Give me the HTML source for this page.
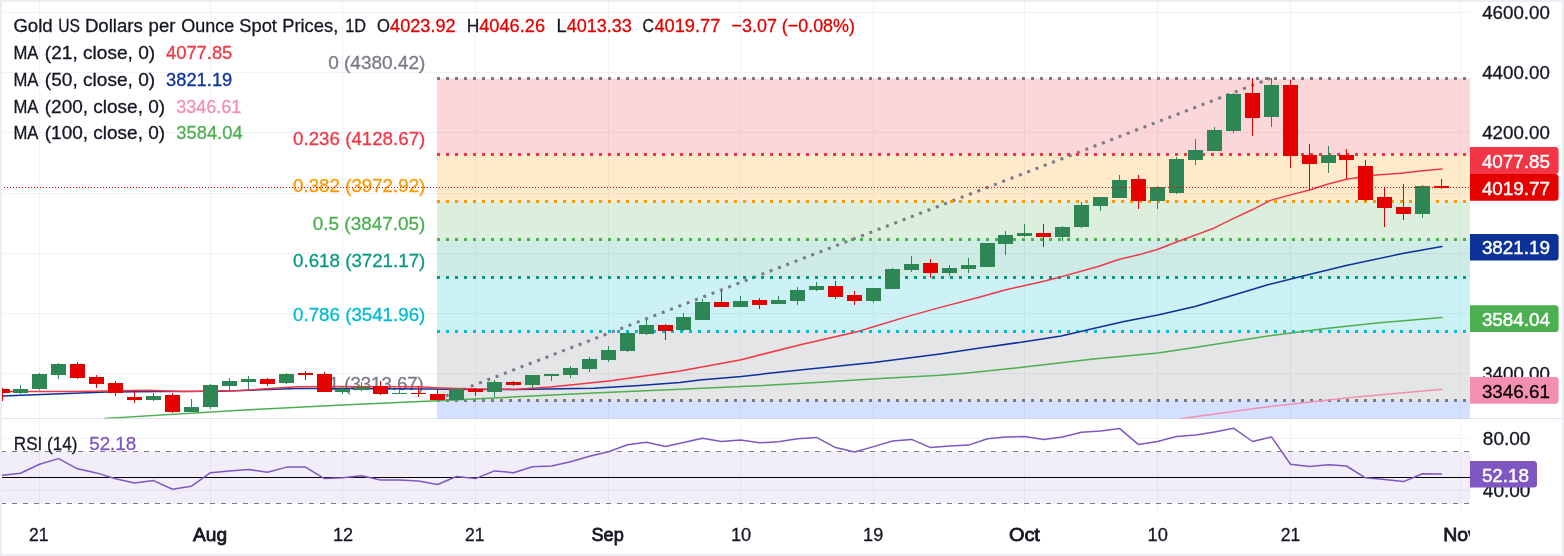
<!DOCTYPE html>
<html lang="en"><head><meta charset="utf-8"><title>Gold US Dollars per Ounce Spot Prices, 1D</title>
<style>html,body{margin:0;padding:0;background:#fff}body{width:1564px;height:556px;overflow:hidden}svg{display:block}</style>
</head><body>
<svg width="1564" height="556" viewBox="0 0 1564 556" font-family="'Liberation Sans', Arial, sans-serif" font-size="19.0px">
<defs>
<clipPath id="cm"><rect x="2" y="2" width="1468" height="416.5"/></clipPath>
<clipPath id="cr"><rect x="2" y="419" width="1468" height="93"/></clipPath>
<clipPath id="ct"><rect x="2" y="512" width="1468" height="42"/></clipPath>
</defs>
<rect x="0" y="0" width="1564" height="556" fill="#eceef3"/>
<rect x="2" y="2" width="1560" height="552" fill="#ffffff"/>
<g stroke="#f1f2f4" stroke-width="1" shape-rendering="crispEdges">
<line x1="39.5" y1="2" x2="39.5" y2="512"/>
<line x1="210.5" y1="2" x2="210.5" y2="512"/>
<line x1="342.5" y1="2" x2="342.5" y2="512"/>
<line x1="475.5" y1="2" x2="475.5" y2="512"/>
<line x1="608.5" y1="2" x2="608.5" y2="512"/>
<line x1="740.5" y1="2" x2="740.5" y2="512"/>
<line x1="873.5" y1="2" x2="873.5" y2="512"/>
<line x1="1024.5" y1="2" x2="1024.5" y2="512"/>
<line x1="1157.5" y1="2" x2="1157.5" y2="512"/>
<line x1="1290.5" y1="2" x2="1290.5" y2="512"/>
<line x1="1460.5" y1="2" x2="1460.5" y2="512"/>
<line x1="2" y1="12.5" x2="1470" y2="12.5"/>
<line x1="2" y1="72.5" x2="1470" y2="72.5"/>
<line x1="2" y1="132.5" x2="1470" y2="132.5"/>
<line x1="2" y1="193.5" x2="1470" y2="193.5"/>
<line x1="2" y1="253.5" x2="1470" y2="253.5"/>
<line x1="2" y1="313.5" x2="1470" y2="313.5"/>
<line x1="2" y1="373.5" x2="1470" y2="373.5"/>
<line x1="2" y1="438.5" x2="1470" y2="438.5"/>
<line x1="2" y1="490.5" x2="1470" y2="490.5"/>
</g>
<rect x="2" y="418" width="1560" height="1" fill="#e0e3eb"/>
<g clip-path="url(#cm)">
<rect x="437" y="78.5" width="1033" height="76.0" fill="#f23645" fill-opacity="0.2"/>
<rect x="437" y="154.5" width="1033" height="47.0" fill="#ff9800" fill-opacity="0.2"/>
<rect x="437" y="201.5" width="1033" height="38.0" fill="#4caf50" fill-opacity="0.2"/>
<rect x="437" y="239.5" width="1033" height="38.0" fill="#089981" fill-opacity="0.2"/>
<rect x="437" y="277.5" width="1033" height="54.0" fill="#00bcd4" fill-opacity="0.2"/>
<rect x="437" y="331.5" width="1033" height="69.0" fill="#787b86" fill-opacity="0.2"/>
<rect x="437" y="400.5" width="1033" height="29.5" fill="#2962ff" fill-opacity="0.2"/>
<line x1="437.5" y1="399.2" x2="1270.5" y2="78.4" stroke="#787b86" stroke-width="3" stroke-dasharray="3 5.9"/>
<line x1="437" y1="78.5" x2="1470" y2="78.5" stroke="#787b86" stroke-width="3" stroke-dasharray="3 6" shape-rendering="crispEdges"/>
<line x1="437" y1="154.5" x2="1470" y2="154.5" stroke="#f23645" stroke-width="3" stroke-dasharray="3 6" shape-rendering="crispEdges"/>
<line x1="437" y1="201.5" x2="1470" y2="201.5" stroke="#ff9800" stroke-width="3" stroke-dasharray="3 6" shape-rendering="crispEdges"/>
<line x1="437" y1="239.5" x2="1470" y2="239.5" stroke="#4caf50" stroke-width="3" stroke-dasharray="3 6" shape-rendering="crispEdges"/>
<line x1="437" y1="277.5" x2="1470" y2="277.5" stroke="#089981" stroke-width="3" stroke-dasharray="3 6" shape-rendering="crispEdges"/>
<line x1="437" y1="331.5" x2="1470" y2="331.5" stroke="#00bcd4" stroke-width="3" stroke-dasharray="3 6" shape-rendering="crispEdges"/>
<line x1="437" y1="400.5" x2="1470" y2="400.5" stroke="#787b86" stroke-width="3" stroke-dasharray="3 6" shape-rendering="crispEdges"/>
<text x="328.2" y="68.7" fill="#787b86" stroke="#787b86" stroke-width="0.3" textLength="97.1" lengthAdjust="spacingAndGlyphs">0 (4380.42)</text>
<text x="293.09999999999997" y="145" fill="#f23645" stroke="#f23645" stroke-width="0.3" textLength="132.2" lengthAdjust="spacingAndGlyphs">0.236 (4128.67)</text>
<text x="293.09999999999997" y="191.5" fill="#ff9800" stroke="#ff9800" stroke-width="0.3" textLength="132.2" lengthAdjust="spacingAndGlyphs">0.382 (3972.92)</text>
<text x="312.8" y="229.7" fill="#4caf50" stroke="#4caf50" stroke-width="0.3" textLength="112.5" lengthAdjust="spacingAndGlyphs">0.5 (3847.05)</text>
<text x="293.09999999999997" y="266.8" fill="#089981" stroke="#089981" stroke-width="0.3" textLength="132.2" lengthAdjust="spacingAndGlyphs">0.618 (3721.17)</text>
<text x="293.09999999999997" y="320.9" fill="#00bcd4" stroke="#00bcd4" stroke-width="0.3" textLength="132.2" lengthAdjust="spacingAndGlyphs">0.786 (3541.96)</text>
<text x="328.7" y="389.6" fill="#787b86" stroke="#787b86" stroke-width="0.3" textLength="95.1" lengthAdjust="spacingAndGlyphs">1 (3313.67)</text>
</g>
<g clip-path="url(#cm)">
<polyline points="1180.0,418.8 1269.5,406.6 1351.3,397.6 1442.0,389.2" fill="none" stroke="#f48fb1" stroke-width="1.5" stroke-linejoin="round" stroke-linecap="round"/>
<polyline points="105.0,418.4 240.0,410.2 342.8,404.9 437.0,400.7 516.7,396.8 593.4,393.0 680.0,389.3 741.4,386.6 807.9,383.1 871.8,379.0 940.0,375.3 967.6,372.9 1024.4,367.1 1093.4,359.1 1157.9,352.9 1197.9,347.0 1269.5,335.8 1325.8,328.6 1376.9,323.0 1442.0,317.6" fill="none" stroke="#4caf50" stroke-width="1.5" stroke-linejoin="round" stroke-linecap="round"/>
<polyline points="-2.0,396.2 61.4,393.7 107.0,392.0 160.0,391.6 220.0,391.3 297.0,388.6 358.0,388.6 460.0,389.3 516.7,389.5 593.4,388.2 639.5,385.6 680.0,382.6 699.7,380.0 741.4,376.4 799.8,369.9 873.5,362.6 940.0,354.0 978.4,348.3 1024.4,341.7 1061.2,336.1 1093.4,328.4 1124.1,321.5 1157.9,314.9 1195.0,306.5 1228.8,296.5 1268.7,284.5 1300.0,276.8 1346.2,265.6 1402.5,253.6 1442.0,246.4" fill="none" stroke="#0c3299" stroke-width="1.5" stroke-linejoin="round" stroke-linecap="round"/>
<polyline points="-2.0,391.4 77.0,391.4 147.0,390.2 184.0,391.4 240.0,390.4 297.0,386.8 327.0,386.5 419.5,386.8 440.0,387.9 475.0,389.1 514.0,389.4 550.5,387.1 609.0,381.0 680.0,371.0 740.0,359.9 801.4,344.5 858.2,331.4 873.5,326.8 908.8,316.1 939.5,307.6 980.0,297.0 1006.0,289.8 1042.9,281.4 1058.2,277.6 1098.1,266.5 1119.6,259.2 1139.5,254.6 1157.9,249.2 1177.9,241.5 1200.0,233.4 1213.8,228.2 1233.7,218.4 1252.1,209.8 1270.5,200.4 1290.5,194.9 1309.7,190.0 1327.3,184.2 1346.5,179.3 1373.3,175.3 1401.0,173.2 1420.0,171.1 1442.0,168.9" fill="none" stroke="#f23645" stroke-width="1.5" stroke-linejoin="round" stroke-linecap="round"/>
<rect x="2.0" y="388" width="1" height="13" fill="#e50000"/>
<rect x="-5.0" y="389" width="15" height="4" fill="#e50000"/>
<rect x="20.0" y="385" width="1" height="9" fill="#2d8653"/>
<rect x="13.0" y="389" width="15" height="4" fill="#2d8653"/>
<rect x="39.0" y="373" width="1" height="17" fill="#2d8653"/>
<rect x="32.0" y="374" width="15" height="15" fill="#2d8653"/>
<rect x="58.0" y="363" width="1" height="16" fill="#2d8653"/>
<rect x="51.0" y="364" width="15" height="11" fill="#2d8653"/>
<rect x="77.0" y="362" width="1" height="17" fill="#e50000"/>
<rect x="70.0" y="364" width="15" height="14" fill="#e50000"/>
<rect x="96.0" y="375" width="1" height="13" fill="#e50000"/>
<rect x="89.0" y="377" width="15" height="7" fill="#e50000"/>
<rect x="115.0" y="381" width="1" height="15" fill="#e50000"/>
<rect x="108.0" y="383" width="15" height="10" fill="#e50000"/>
<rect x="134.0" y="390" width="1" height="13" fill="#e50000"/>
<rect x="127.0" y="397" width="15" height="3" fill="#e50000"/>
<rect x="153.0" y="393" width="1" height="8" fill="#2d8653"/>
<rect x="146.0" y="396" width="15" height="4" fill="#2d8653"/>
<rect x="172.0" y="393" width="1" height="20" fill="#e50000"/>
<rect x="165.0" y="395" width="15" height="17" fill="#e50000"/>
<rect x="191.0" y="399" width="1" height="13" fill="#2d8653"/>
<rect x="184.0" y="407" width="15" height="5" fill="#2d8653"/>
<rect x="210.0" y="384" width="1" height="25" fill="#2d8653"/>
<rect x="203.0" y="385" width="15" height="22" fill="#2d8653"/>
<rect x="229.0" y="378" width="1" height="12" fill="#2d8653"/>
<rect x="222.0" y="381" width="15" height="5" fill="#2d8653"/>
<rect x="248.0" y="376" width="1" height="13" fill="#2d8653"/>
<rect x="241.0" y="379" width="15" height="3" fill="#2d8653"/>
<rect x="267.0" y="378" width="1" height="8" fill="#e50000"/>
<rect x="260.0" y="379" width="15" height="5" fill="#e50000"/>
<rect x="286.0" y="373" width="1" height="11" fill="#2d8653"/>
<rect x="279.0" y="374" width="15" height="9" fill="#2d8653"/>
<rect x="305.0" y="371" width="1" height="9" fill="#e50000"/>
<rect x="298.0" y="373" width="15" height="2" fill="#e50000"/>
<rect x="324.0" y="372" width="1" height="20" fill="#e50000"/>
<rect x="317.0" y="374" width="15" height="18" fill="#e50000"/>
<rect x="342.0" y="386" width="1" height="8" fill="#2d8653"/>
<rect x="335.0" y="389" width="15" height="3" fill="#2d8653"/>
<rect x="361.0" y="382" width="1" height="9" fill="#2d8653"/>
<rect x="354.0" y="387" width="15" height="3" fill="#2d8653"/>
<rect x="380.0" y="381" width="1" height="14" fill="#e50000"/>
<rect x="373.0" y="386" width="15" height="8" fill="#e50000"/>
<rect x="399.0" y="389" width="1" height="5" fill="#2d8653"/>
<rect x="392.0" y="393" width="15" height="1" fill="#2d8653"/>
<rect x="418.0" y="386" width="1" height="11" fill="#e50000"/>
<rect x="411.0" y="393" width="15" height="1" fill="#e50000"/>
<rect x="437.0" y="390" width="1" height="10" fill="#e50000"/>
<rect x="430.0" y="394" width="15" height="6" fill="#e50000"/>
<rect x="456.0" y="388" width="1" height="12" fill="#2d8653"/>
<rect x="449.0" y="389" width="15" height="11" fill="#2d8653"/>
<rect x="475.0" y="388" width="1" height="8" fill="#e50000"/>
<rect x="468.0" y="389" width="15" height="3" fill="#e50000"/>
<rect x="494.0" y="380" width="1" height="17" fill="#2d8653"/>
<rect x="487.0" y="382" width="15" height="10" fill="#2d8653"/>
<rect x="513.0" y="381" width="1" height="5" fill="#e50000"/>
<rect x="506.0" y="382" width="15" height="3" fill="#e50000"/>
<rect x="532.0" y="375" width="1" height="13" fill="#2d8653"/>
<rect x="525.0" y="375" width="15" height="10" fill="#2d8653"/>
<rect x="551.0" y="374" width="1" height="7" fill="#2d8653"/>
<rect x="544.0" y="374" width="15" height="2" fill="#2d8653"/>
<rect x="570.0" y="366" width="1" height="12" fill="#2d8653"/>
<rect x="563.0" y="368" width="15" height="7" fill="#2d8653"/>
<rect x="589.0" y="357" width="1" height="15" fill="#2d8653"/>
<rect x="582.0" y="359" width="15" height="10" fill="#2d8653"/>
<rect x="608.0" y="346" width="1" height="16" fill="#2d8653"/>
<rect x="601.0" y="350" width="15" height="10" fill="#2d8653"/>
<rect x="627.0" y="331" width="1" height="21" fill="#2d8653"/>
<rect x="620.0" y="333" width="15" height="18" fill="#2d8653"/>
<rect x="646.0" y="320" width="1" height="15" fill="#2d8653"/>
<rect x="639.0" y="325" width="15" height="9" fill="#2d8653"/>
<rect x="665.0" y="324" width="1" height="16" fill="#e50000"/>
<rect x="658.0" y="325" width="15" height="6" fill="#e50000"/>
<rect x="683.0" y="313" width="1" height="18" fill="#2d8653"/>
<rect x="676.0" y="317" width="15" height="13" fill="#2d8653"/>
<rect x="702.0" y="299" width="1" height="21" fill="#2d8653"/>
<rect x="695.0" y="302" width="15" height="18" fill="#2d8653"/>
<rect x="721.0" y="291" width="1" height="16" fill="#e50000"/>
<rect x="714.0" y="302" width="15" height="5" fill="#e50000"/>
<rect x="740.0" y="296" width="1" height="11" fill="#2d8653"/>
<rect x="733.0" y="301" width="15" height="6" fill="#2d8653"/>
<rect x="759.0" y="298" width="1" height="11" fill="#e50000"/>
<rect x="752.0" y="300" width="15" height="5" fill="#e50000"/>
<rect x="778.0" y="296" width="1" height="8" fill="#2d8653"/>
<rect x="771.0" y="300" width="15" height="4" fill="#2d8653"/>
<rect x="797.0" y="287" width="1" height="18" fill="#2d8653"/>
<rect x="790.0" y="290" width="15" height="11" fill="#2d8653"/>
<rect x="816.0" y="282" width="1" height="9" fill="#2d8653"/>
<rect x="809.0" y="286" width="15" height="4" fill="#2d8653"/>
<rect x="835.0" y="281" width="1" height="18" fill="#e50000"/>
<rect x="828.0" y="286" width="15" height="11" fill="#e50000"/>
<rect x="854.0" y="291" width="1" height="14" fill="#e50000"/>
<rect x="847.0" y="295" width="15" height="6" fill="#e50000"/>
<rect x="873.0" y="288" width="1" height="15" fill="#2d8653"/>
<rect x="866.0" y="288" width="15" height="13" fill="#2d8653"/>
<rect x="892.0" y="268" width="1" height="21" fill="#2d8653"/>
<rect x="885.0" y="269" width="15" height="20" fill="#2d8653"/>
<rect x="911.0" y="256" width="1" height="16" fill="#2d8653"/>
<rect x="904.0" y="264" width="15" height="6" fill="#2d8653"/>
<rect x="930.0" y="259" width="1" height="19" fill="#e50000"/>
<rect x="923.0" y="263" width="15" height="10" fill="#e50000"/>
<rect x="949.0" y="265" width="1" height="11" fill="#2d8653"/>
<rect x="942.0" y="268" width="15" height="5" fill="#2d8653"/>
<rect x="968.0" y="258" width="1" height="15" fill="#2d8653"/>
<rect x="961.0" y="265" width="15" height="4" fill="#2d8653"/>
<rect x="987.0" y="243" width="1" height="24" fill="#2d8653"/>
<rect x="980.0" y="243" width="15" height="24" fill="#2d8653"/>
<rect x="1005.0" y="231" width="1" height="24" fill="#2d8653"/>
<rect x="998.0" y="235" width="15" height="9" fill="#2d8653"/>
<rect x="1024.0" y="224" width="1" height="13" fill="#2d8653"/>
<rect x="1017.0" y="233" width="15" height="3" fill="#2d8653"/>
<rect x="1043.0" y="224" width="1" height="23" fill="#e50000"/>
<rect x="1036.0" y="233" width="15" height="4" fill="#e50000"/>
<rect x="1062.0" y="226" width="1" height="15" fill="#2d8653"/>
<rect x="1055.0" y="227" width="15" height="10" fill="#2d8653"/>
<rect x="1081.0" y="202" width="1" height="26" fill="#2d8653"/>
<rect x="1074.0" y="205" width="15" height="22" fill="#2d8653"/>
<rect x="1100.0" y="197" width="1" height="14" fill="#2d8653"/>
<rect x="1093.0" y="197" width="15" height="9" fill="#2d8653"/>
<rect x="1119.0" y="175" width="1" height="23" fill="#2d8653"/>
<rect x="1112.0" y="180" width="15" height="18" fill="#2d8653"/>
<rect x="1138.0" y="175" width="1" height="34" fill="#e50000"/>
<rect x="1131.0" y="179" width="15" height="22" fill="#e50000"/>
<rect x="1157.0" y="186" width="1" height="23" fill="#2d8653"/>
<rect x="1150.0" y="187" width="15" height="14" fill="#2d8653"/>
<rect x="1176.0" y="157" width="1" height="37" fill="#2d8653"/>
<rect x="1169.0" y="159" width="15" height="34" fill="#2d8653"/>
<rect x="1195.0" y="139" width="1" height="26" fill="#2d8653"/>
<rect x="1188.0" y="150" width="15" height="10" fill="#2d8653"/>
<rect x="1214.0" y="127" width="1" height="24" fill="#2d8653"/>
<rect x="1207.0" y="130" width="15" height="21" fill="#2d8653"/>
<rect x="1233.0" y="93" width="1" height="40" fill="#2d8653"/>
<rect x="1226.0" y="94" width="15" height="37" fill="#2d8653"/>
<rect x="1252.0" y="78" width="1" height="58" fill="#e50000"/>
<rect x="1245.0" y="93" width="15" height="25" fill="#e50000"/>
<rect x="1271.0" y="78" width="1" height="49" fill="#2d8653"/>
<rect x="1264.0" y="85" width="15" height="32" fill="#2d8653"/>
<rect x="1290.0" y="80" width="1" height="88" fill="#e50000"/>
<rect x="1283.0" y="85" width="15" height="71" fill="#e50000"/>
<rect x="1309.0" y="144" width="1" height="46" fill="#e50000"/>
<rect x="1302.0" y="155" width="15" height="9" fill="#e50000"/>
<rect x="1328.0" y="146" width="1" height="27" fill="#2d8653"/>
<rect x="1321.0" y="155" width="15" height="8" fill="#2d8653"/>
<rect x="1346.0" y="149" width="1" height="30" fill="#e50000"/>
<rect x="1339.0" y="155" width="15" height="5" fill="#e50000"/>
<rect x="1365.0" y="160" width="1" height="41" fill="#e50000"/>
<rect x="1358.0" y="166" width="15" height="34" fill="#e50000"/>
<rect x="1384.0" y="187" width="1" height="40" fill="#e50000"/>
<rect x="1377.0" y="197" width="15" height="11" fill="#e50000"/>
<rect x="1403.0" y="184" width="1" height="36" fill="#e50000"/>
<rect x="1396.0" y="207" width="15" height="7" fill="#e50000"/>
<rect x="1422.0" y="185" width="1" height="33" fill="#2d8653"/>
<rect x="1415.0" y="186" width="15" height="28" fill="#2d8653"/>
<rect x="1441.0" y="179" width="1" height="10" fill="#e50000"/>
<rect x="1434.0" y="186" width="15" height="2" fill="#e50000"/>
<line x1="1" y1="187.5" x2="1470" y2="187.5" stroke="#e50000" stroke-width="1" stroke-dasharray="1 2" shape-rendering="crispEdges"/>
</g>
<g clip-path="url(#cr)">
<rect x="2" y="451.5" width="1468" height="52" fill="#7e57c2" fill-opacity="0.1"/>
<line x1="2" y1="451.5" x2="1470" y2="451.5" stroke="#787b86" stroke-width="1" stroke-dasharray="5 6" stroke-dashoffset="1" shape-rendering="crispEdges"/>
<line x1="2" y1="503.5" x2="1470" y2="503.5" stroke="#787b86" stroke-width="1" stroke-dasharray="5 6" stroke-dashoffset="1" shape-rendering="crispEdges"/>
<rect x="2" y="477" width="1468" height="1" fill="#000"/>
<polyline points="-17.4,476.8 2.5,475.2 20.5,473.2 39.5,464.2 58.5,458.6 77.5,468.8 96.5,472.9 115.5,478.8 134.5,482.9 153.5,480.6 172.5,489.3 191.5,486.2 210.5,472.7 229.5,470.9 248.5,469.6 267.5,472.2 286.5,467.1 305.5,467.1 324.5,478.6 342.5,477.8 361.5,475.8 380.5,480.1 399.5,480.1 418.5,480.9 437.5,484.5 456.5,476.5 475.5,478.6 494.5,470.9 513.5,472.7 532.5,466.8 551.5,466.0 570.5,461.7 589.5,456.3 608.5,451.7 627.5,444.8 646.5,442.3 665.5,446.6 683.5,442.4 702.5,438.2 721.5,441.5 740.5,439.9 759.5,442.8 778.5,441.7 797.5,438.7 816.5,437.4 835.5,447.6 854.5,452.0 873.5,446.6 892.5,441.0 911.5,439.4 930.5,447.6 949.5,446.1 968.5,445.1 987.5,438.7 1005.5,437.1 1024.5,436.6 1043.5,439.4 1062.5,437.1 1081.5,432.3 1100.5,431.0 1119.5,428.4 1138.5,444.6 1157.5,441.5 1176.5,436.6 1195.5,435.1 1214.5,432.0 1233.5,428.2 1252.5,441.5 1271.5,436.9 1290.5,464.2 1309.5,466.5 1328.5,464.8 1346.5,466.0 1365.5,477.8 1384.5,479.6 1403.5,481.6 1422.5,473.7 1441.5,474.0" fill="none" stroke="#7e57c2" stroke-width="1.5" stroke-linejoin="round" stroke-linecap="round"/>
</g>
<text x="13.4" y="32.1" fill="#131722" stroke="#131722" stroke-width="0.3" textLength="39.3" lengthAdjust="spacingAndGlyphs">Gold</text>
<text x="58.2" y="32.1" fill="#131722" stroke="#131722" stroke-width="0.3" textLength="21.8" lengthAdjust="spacingAndGlyphs">US</text>
<text x="84.9" y="32.1" fill="#131722" stroke="#131722" stroke-width="0.3" textLength="58.0" lengthAdjust="spacingAndGlyphs">Dollars</text>
<text x="148.6" y="32.1" fill="#131722" stroke="#131722" stroke-width="0.3" textLength="26.8" lengthAdjust="spacingAndGlyphs">per</text>
<text x="181.3" y="32.1" fill="#131722" stroke="#131722" stroke-width="0.3" textLength="53.0" lengthAdjust="spacingAndGlyphs">Ounce</text>
<text x="239.3" y="32.1" fill="#131722" stroke="#131722" stroke-width="0.3" textLength="37.6" lengthAdjust="spacingAndGlyphs">Spot</text>
<text x="282.2" y="32.1" fill="#131722" stroke="#131722" stroke-width="0.3" textLength="56.1" lengthAdjust="spacingAndGlyphs">Prices,</text>
<text x="345.2" y="32.1" fill="#131722" stroke="#131722" stroke-width="0.3" textLength="20.8" lengthAdjust="spacingAndGlyphs">1D</text>
<text x="376.9" y="32.1" fill="#131722" stroke="#131722" stroke-width="0.3" textLength="12.9" lengthAdjust="spacingAndGlyphs">O</text>
<text x="390.1" y="32.1" fill="#e50000" stroke="#e50000" stroke-width="0.3" textLength="65.6" lengthAdjust="spacingAndGlyphs">4023.92</text>
<text x="466.7" y="32.1" fill="#131722" stroke="#131722" stroke-width="0.3" textLength="12.6" lengthAdjust="spacingAndGlyphs">H</text>
<text x="479.2" y="32.1" fill="#e50000" stroke="#e50000" stroke-width="0.3" textLength="65.9" lengthAdjust="spacingAndGlyphs">4046.26</text>
<text x="556.4" y="32.1" fill="#131722" stroke="#131722" stroke-width="0.3" textLength="10.2" lengthAdjust="spacingAndGlyphs">L</text>
<text x="566.7" y="32.1" fill="#e50000" stroke="#e50000" stroke-width="0.3" textLength="65.2" lengthAdjust="spacingAndGlyphs">4013.33</text>
<text x="642.5" y="32.1" fill="#131722" stroke="#131722" stroke-width="0.3" textLength="11.5" lengthAdjust="spacingAndGlyphs">C</text>
<text x="654.4" y="32.1" fill="#e50000" stroke="#e50000" stroke-width="0.3" textLength="65.9" lengthAdjust="spacingAndGlyphs">4019.77</text>
<text x="731.6" y="32.1" fill="#e50000" stroke="#e50000" stroke-width="0.3" textLength="123.3" lengthAdjust="spacingAndGlyphs">−3.07 (−0.08%)</text>
<text x="13.4" y="59.2" fill="#131722" stroke="#131722" stroke-width="0.3" textLength="25.0" lengthAdjust="spacingAndGlyphs">MA</text>
<text x="44.8" y="59.2" fill="#131722" stroke="#131722" stroke-width="0.3" textLength="110.4" lengthAdjust="spacingAndGlyphs">(21, close, 0)</text>
<text x="166.0" y="59.2" fill="#f23645" stroke="#f23645" stroke-width="0.3" textLength="66.3" lengthAdjust="spacingAndGlyphs">4077.85</text>
<text x="13.4" y="85.9" fill="#131722" stroke="#131722" stroke-width="0.3" textLength="25.0" lengthAdjust="spacingAndGlyphs">MA</text>
<text x="44.8" y="85.9" fill="#131722" stroke="#131722" stroke-width="0.3" textLength="110.4" lengthAdjust="spacingAndGlyphs">(50, close, 0)</text>
<text x="166.0" y="85.9" fill="#0c3299" stroke="#0c3299" stroke-width="0.3" textLength="66.3" lengthAdjust="spacingAndGlyphs">3821.19</text>
<text x="13.4" y="112.7" fill="#131722" stroke="#131722" stroke-width="0.3" textLength="25.0" lengthAdjust="spacingAndGlyphs">MA</text>
<text x="44.8" y="112.7" fill="#131722" stroke="#131722" stroke-width="0.3" textLength="120.3" lengthAdjust="spacingAndGlyphs">(200, close, 0)</text>
<text x="176.3" y="112.7" fill="#f48fb1" stroke="#f48fb1" stroke-width="0.3" textLength="65.0" lengthAdjust="spacingAndGlyphs">3346.61</text>
<text x="13.4" y="139.4" fill="#131722" stroke="#131722" stroke-width="0.3" textLength="25.0" lengthAdjust="spacingAndGlyphs">MA</text>
<text x="44.8" y="139.4" fill="#131722" stroke="#131722" stroke-width="0.3" textLength="120.3" lengthAdjust="spacingAndGlyphs">(100, close, 0)</text>
<text x="176.3" y="139.4" fill="#4caf50" stroke="#4caf50" stroke-width="0.3" textLength="66.3" lengthAdjust="spacingAndGlyphs">3584.04</text>
<text x="13.8" y="450.2" fill="#131722" stroke="#131722" stroke-width="0.3" textLength="63.7" lengthAdjust="spacingAndGlyphs">RSI (14)</text>
<text x="89.2" y="450.2" fill="#7e57c2" stroke="#7e57c2" stroke-width="0.3" textLength="47.1" lengthAdjust="spacingAndGlyphs">52.18</text>
<text x="1482.2" y="19.0" fill="#131722" stroke="#131722" stroke-width="0.3" textLength="67.6" lengthAdjust="spacingAndGlyphs">4600.00</text>
<text x="1482.2" y="79.15" fill="#131722" stroke="#131722" stroke-width="0.3" textLength="67.6" lengthAdjust="spacingAndGlyphs">4400.00</text>
<text x="1482.2" y="139.3" fill="#131722" stroke="#131722" stroke-width="0.3" textLength="67.6" lengthAdjust="spacingAndGlyphs">4200.00</text>
<text x="1482.2" y="379.8" fill="#131722" stroke="#131722" stroke-width="0.3" textLength="67.6" lengthAdjust="spacingAndGlyphs">3400.00</text>
<text x="1482.8" y="444.8" fill="#131722" stroke="#131722" stroke-width="0.3" textLength="47.6" lengthAdjust="spacingAndGlyphs">80.00</text>
<text x="1482.8" y="496.8" fill="#131722" stroke="#131722" stroke-width="0.3" textLength="47.6" lengthAdjust="spacingAndGlyphs">40.00</text>
<path d="M1470,147 H1555.1 Q1558.6,147 1558.6,150.5 V170.4 Q1558.6,173.9 1555.1,173.9 H1470 Z" fill="#f23645"/>
<text x="1481.9" y="167.64999999999998" fill="#fff" stroke="#fff" stroke-width="0.45" textLength="68.1" lengthAdjust="spacingAndGlyphs">4077.85</text>
<path d="M1470,173.9 H1555.1 Q1558.6,173.9 1558.6,177.4 V197.2 Q1558.6,200.7 1555.1,200.7 H1470 Z" fill="#e50000"/>
<text x="1481.9" y="194.5" fill="#fff" stroke="#fff" stroke-width="0.45" textLength="68.1" lengthAdjust="spacingAndGlyphs">4019.77</text>
<path d="M1470,233.9 H1555.1 Q1558.6,233.9 1558.6,237.4 V257.1 Q1558.6,260.6 1555.1,260.6 H1470 Z" fill="#0c3299"/>
<text x="1481.9" y="254.45" fill="#fff" stroke="#fff" stroke-width="0.45" textLength="68.1" lengthAdjust="spacingAndGlyphs">3821.19</text>
<path d="M1470,305.2 H1555.1 Q1558.6,305.2 1558.6,308.7 V328.4 Q1558.6,331.9 1555.1,331.9 H1470 Z" fill="#4caf50"/>
<text x="1481.9" y="325.74999999999994" fill="#fff" stroke="#fff" stroke-width="0.45" textLength="68.1" lengthAdjust="spacingAndGlyphs">3584.04</text>
<path d="M1470,377 H1555.1 Q1558.6,377 1558.6,380.5 V400.2 Q1558.6,403.7 1555.1,403.7 H1470 Z" fill="#f48fb1"/>
<text x="1481.9" y="397.55" fill="#000" stroke="#000" stroke-width="0.3" textLength="68.1" lengthAdjust="spacingAndGlyphs">3346.61</text>
<path d="M1470,461 H1533.5 Q1537,461 1537,464.5 V484.1 Q1537,487.6 1533.5,487.6 H1470 Z" fill="#7e57c2"/>
<text x="1481.9" y="481.5" fill="#fff" stroke="#fff" stroke-width="0.45" textLength="47.1" lengthAdjust="spacingAndGlyphs">52.18</text>
<g clip-path="url(#ct)">
<text x="29.1" y="540.6" fill="#131722" stroke="#131722" stroke-width="0.3" textLength="19.5" lengthAdjust="spacingAndGlyphs">21</text>
<text x="193.1" y="540.6" fill="#131722" stroke="#131722" stroke-width="0.8" textLength="34.0" lengthAdjust="spacingAndGlyphs">Aug</text>
<text x="333.0" y="540.6" fill="#131722" stroke="#131722" stroke-width="0.3" textLength="20.2" lengthAdjust="spacingAndGlyphs">12</text>
<text x="464.9" y="540.6" fill="#131722" stroke="#131722" stroke-width="0.3" textLength="19.5" lengthAdjust="spacingAndGlyphs">21</text>
<text x="591.5" y="540.6" fill="#131722" stroke="#131722" stroke-width="0.8" textLength="32.3" lengthAdjust="spacingAndGlyphs">Sep</text>
<text x="730.9" y="540.6" fill="#131722" stroke="#131722" stroke-width="0.3" textLength="20.3" lengthAdjust="spacingAndGlyphs">10</text>
<text x="863.1" y="540.6" fill="#131722" stroke="#131722" stroke-width="0.3" textLength="20.1" lengthAdjust="spacingAndGlyphs">19</text>
<text x="1008.9" y="540.6" fill="#131722" stroke="#131722" stroke-width="0.8" textLength="31.0" lengthAdjust="spacingAndGlyphs">Oct</text>
<text x="1147.5" y="540.6" fill="#131722" stroke="#131722" stroke-width="0.3" textLength="20.3" lengthAdjust="spacingAndGlyphs">10</text>
<text x="1280.7" y="540.6" fill="#131722" stroke="#131722" stroke-width="0.3" textLength="19.5" lengthAdjust="spacingAndGlyphs">21</text>
<text x="1443.2" y="540.6" fill="#131722" stroke="#131722" stroke-width="0.8" textLength="34.6" lengthAdjust="spacingAndGlyphs">Nov</text>
</g>
</svg>
</body></html>
